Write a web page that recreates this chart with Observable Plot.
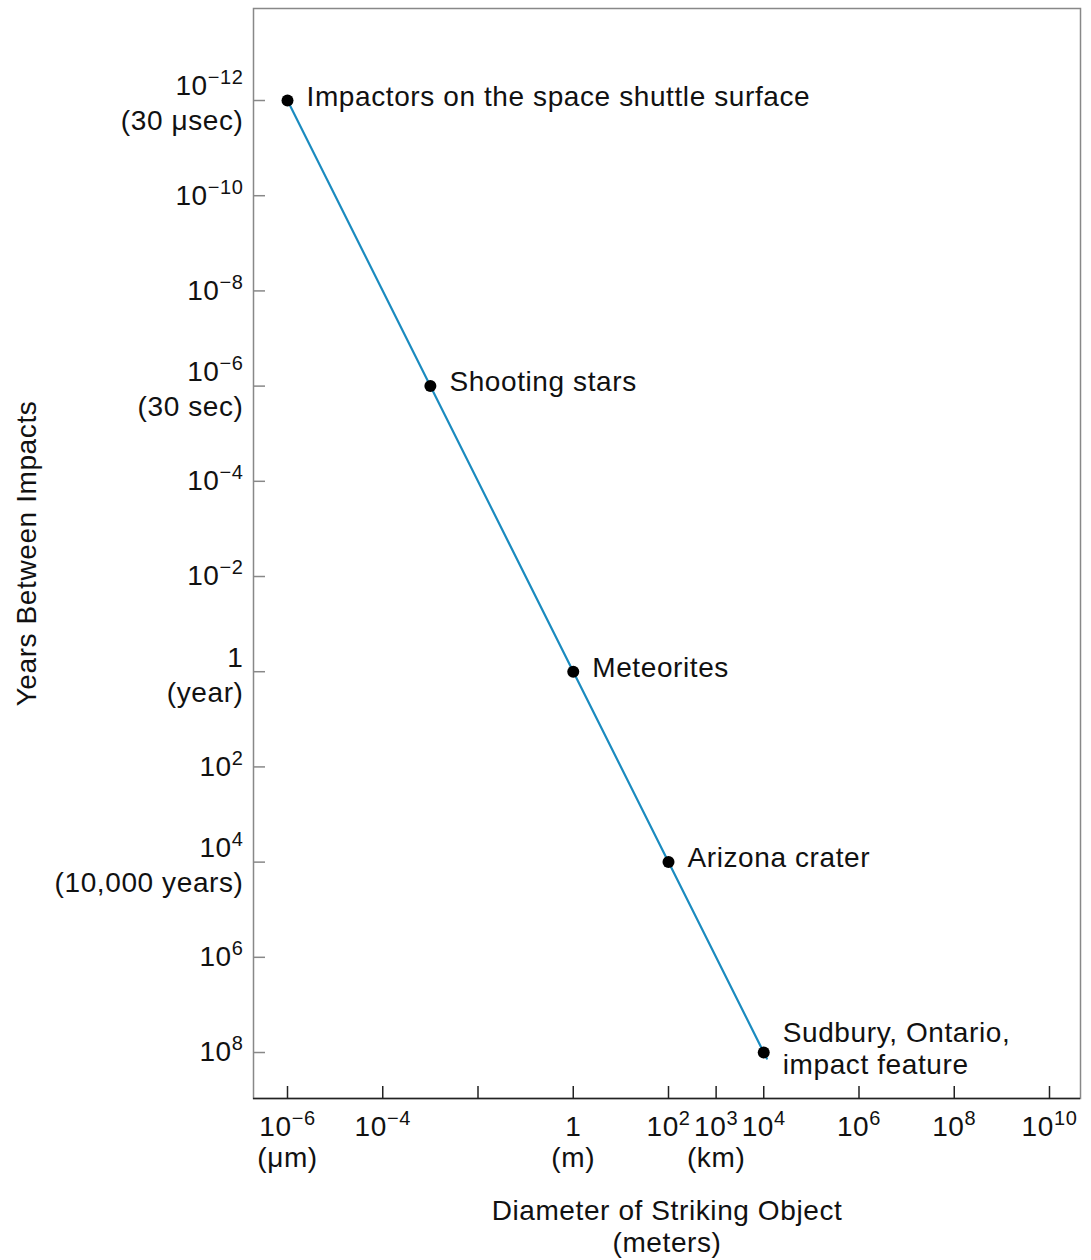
<!DOCTYPE html>
<html>
<head>
<meta charset="utf-8">
<script src="https://cdn.jsdelivr.net/npm/d3@7"></script>
<script src="https://cdn.jsdelivr.net/npm/@observablehq/plot@0.6"></script>
<style>
  html, body { margin: 0; padding: 0; background: #fff; }
  #chart svg { display: block; }
</style>
</head>
<body>
<div id="chart"></div>
<script>
// ---- data ----
const events = [
  "Impactors on the space shuttle surface",
  "Shooting stars",
  "Meteorites",
  "Arizona crater",
  "Sudbury, Ontario,\nimpact feature"
];
const diameterMeters = [1e-6, 1e-3, 1, 1e2, 1e4];
const yearsBetween = [1e-12, 1e-6, 1, 1e4, 1e8];

// fitted trend line (ends slightly past the last point)
const trendDiameter = [1e-6, 1.16e4];
const trendYears = [1e-12, 1.34e8];

const xTicks = [1e-6, 1e-4, 1e-2, 1, 1e2, 1e3, 1e4, 1e6, 1e8, 1e10];
const xTickLabels = ["10^−6", "10^−4", "", "1", "10^2", "10^3", "10^4", "10^6", "10^8", "10^10"];
const xTickSub = ["(μm)", "", "", "(m)", "", "(km)", "", "", "", ""];

const yTicks = [1e-12, 1e-10, 1e-8, 1e-6, 1e-4, 1e-2, 1, 1e2, 1e4, 1e6, 1e8];
const yTickLabels = ["10^−12", "10^−10", "10^−8", "10^−6", "10^−4", "10^−2", "1", "10^2", "10^4", "10^6", "10^8"];
const yTickSub = ["(30 μsec)", "", "", "(30 sec)", "", "", "(year)", "", "(10,000 years)", "", ""];

const xTitle = ["Diameter of Striking Object", "(meters)"];
const yTitle = "Years Between Impacts";

// ---- build ----
const points = events.map((e, i) => ({event: e, d: diameterMeters[i], y: yearsBetween[i]}));
const trend = trendDiameter.map((d, i) => ({d, y: trendYears[i]}));
const xt = xTicks.map((v, i) => ({v, label: xTickLabels[i], sub: xTickSub[i]}));
const yt = yTicks.map((v, i) => ({v, label: yTickLabels[i], sub: yTickSub[i]}));

const xDomain = [Math.pow(10, -6.714), Math.pow(10, 10.651)];
const yDomain = [Math.pow(10, -13.933), Math.pow(10, 8.966)];

const FS = 28;
const font = "'Liberation Sans', Arial, Helvetica, sans-serif";
const ink = "#111";

const chart = Plot.plot({
  width: 1091,
  height: 1260,
  marginLeft: 253,
  marginRight: 11,
  marginTop: 8,
  marginBottom: 162,
  style: {fontFamily: font, fontSize: FS + "px", color: ink, background: "#fff", letterSpacing: "0.6px"},
  x: {type: "log", domain: xDomain, axis: null},
  y: {type: "log", domain: yDomain, reverse: true, axis: null},
  marks: [
    Plot.frame({stroke: "#888", strokeWidth: 1.5}),
    Plot.ruleY([yDomain[1]], {stroke: "#222", strokeWidth: 1.5}),
    // inward ticks
    Plot.axisY(yTicks, {anchor: "left", tickSize: 12, dx: 12, tickFormat: () => "", label: null, stroke: "#888", strokeWidth: 1.5}),
    Plot.axisX(xTicks, {anchor: "bottom", tickSize: 12, dy: -12, tickFormat: () => "", label: null, stroke: "#222", strokeWidth: 1.5}),
    // y tick labels
    Plot.text(yt.filter(d => !d.sub), {y: "v", text: "label", frameAnchor: "left", textAnchor: "end", lineAnchor: "middle", dx: -10, fontSize: FS, fill: ink}),
    Plot.text(yt.filter(d => d.sub), {y: "v", text: "label", frameAnchor: "left", textAnchor: "end", lineAnchor: "middle", dx: -10, dy: -14, fontSize: FS, fill: ink}),
    Plot.text(yt.filter(d => d.sub), {y: "v", text: "sub", frameAnchor: "left", textAnchor: "end", lineAnchor: "middle", dx: -10, dy: 21, fontSize: FS, fill: ink}),
    // x tick labels
    Plot.text(xt.filter(d => d.label), {x: "v", text: "label", frameAnchor: "bottom", lineAnchor: "middle", dy: 29, fontSize: FS, fill: ink}),
    Plot.text(xt.filter(d => d.sub), {x: "v", text: "sub", frameAnchor: "bottom", lineAnchor: "middle", dy: 60, fontSize: FS, fill: ink}),
    // axis titles
    Plot.text([xTitle[0]], {frameAnchor: "bottom", lineAnchor: "middle", dy: 113, fontSize: FS, fill: ink}),
    Plot.text([xTitle[1]], {frameAnchor: "bottom", lineAnchor: "middle", dy: 145, fontSize: FS, fill: ink}),
    Plot.text([yTitle], {frameAnchor: "left", textAnchor: "middle", lineAnchor: "middle", rotate: -90, dx: -226, fontSize: FS, fill: ink}),
    // trend line and points
    Plot.line(trend, {x: "d", y: "y", stroke: "#1b8bbf", strokeWidth: 2.2}),
    Plot.dot(points, {x: "d", y: "y", r: 6, fill: "#000"}),
    Plot.text(points, {x: "d", y: "y", text: "event", textAnchor: "start", lineAnchor: "middle", dx: 19,
      dy: -5, lineHeight: 1.15, fontSize: FS, fill: ink})
  ]
});

document.getElementById("chart").appendChild(chart);

// superscript exponents for labels written as 10^n
chart.querySelectorAll("text").forEach(t => {
  const m = /^10\^(.+)$/.exec(t.textContent);
  if (m) {
    t.textContent = "10";
    const ts = document.createElementNS("http://www.w3.org/2000/svg", "tspan");
    ts.setAttribute("font-size", Math.round(FS * 0.7));
    ts.setAttribute("dy", -11);
    ts.textContent = m[1];
    t.appendChild(ts);
  }
});
</script>
</body>
</html>
